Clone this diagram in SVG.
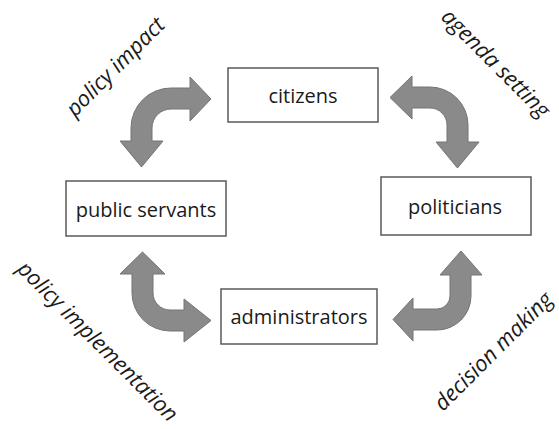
<svg xmlns="http://www.w3.org/2000/svg" width="559" height="429" viewBox="0 0 559 429">
<style>
.box{fill:#fff;stroke:#5a5a5a;stroke-width:1.5}
.lbl{font-family:"Open Sans","Noto Sans",sans-serif;font-size:20px;fill:#1a1a1a;text-anchor:middle}
.it{font-family:"Open Sans","Noto Sans",sans-serif;font-size:22px;font-style:italic;fill:#1a1a1a;text-anchor:middle}
.arr{fill:#8a8a8a;stroke:#747474;stroke-width:1;stroke-linejoin:round}
</style>
<rect width="559" height="429" fill="#fff"/>
<g id="connectors">
<path class="arr" d="M141.5,167 L120,141 L131,141 L131,128 A40,40 0 0 1 171,88 L190,88 L190,77 L211,99 L190,121 L190,109 L171,109 A19,19 0 0 0 152,128 L152,141 L163,141 Z"/>
<path class="arr" d="M390,97.5 L412,76 L412,87 L430,87 A38,38 0 0 1 468,125 L468,142 L479,142 L457.5,168 L436,142 L447,142 L447,125 A17,17 0 0 0 430,108 L412,108 L412,119 Z"/>
<path class="arr" d="M142.5,252 L165,274 L153,274 L153,293 A17,17 0 0 0 170,310 L184,310 L184,299 L211,320.5 L184,342 L184,331 L170,331 A38,38 0 0 1 132,293 L132,274 L120,274 Z"/>
<path class="arr" d="M461,251 L482,275 L471,275 L471,296 A34,34 0 0 1 437,330 L413,330 L413,341 L393,319.5 L413,298 L413,309 L437,309 A13,13 0 0 0 450,296 L450,275 L440,275 Z"/>
</g>
<g id="citizens">
<rect class="box" x="228" y="68" width="150" height="54"/>
<text class="lbl" x="303" y="103">citizens</text>
</g>
<g id="politicians">
<rect class="box" x="381" y="177" width="150" height="58"/>
<text class="lbl" x="455" y="214">politicians</text>
</g>
<g id="public-servants">
<rect class="box" x="66" y="181" width="160" height="55"/>
<text class="lbl" x="146" y="217">public servants</text>
</g>
<g id="administrators">
<rect class="box" x="221" y="289" width="156" height="55"/>
<text class="lbl" x="299" y="324">administrators</text>
</g>
<g id="labels">
<text class="it" transform="translate(117,68.5) rotate(-45)" y="5">policy impact</text>
<text class="it" transform="translate(494,65) rotate(45)" y="5">agenda setting</text>
<text class="it" transform="translate(96,343) rotate(45)" y="5">policy implementation</text>
<text class="it" transform="translate(495,353) rotate(-45)" y="5">decision making</text>
</g>
</svg>
